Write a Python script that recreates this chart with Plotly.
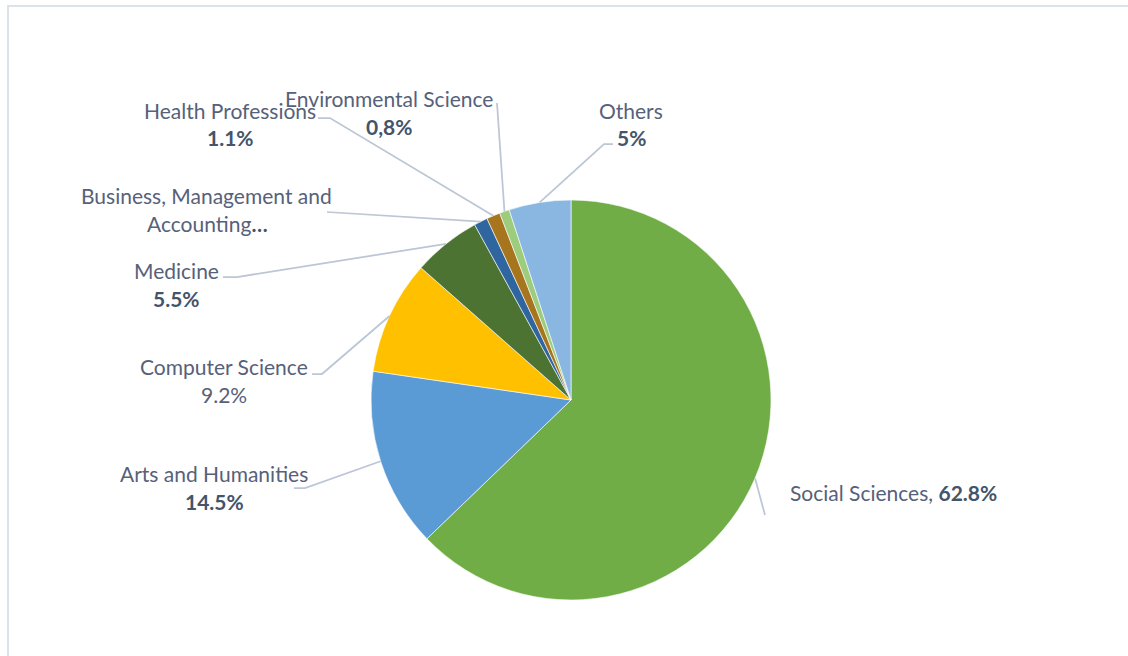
import math
import plotly.graph_objects as go

# ---- data ----
categories = ["Social Sciences", "Arts and Humanities", "Computer Science", "Medicine",
              "Business, Management and Accounting", "Health Professions",
              "Environmental Science", "Others"]
values = [62.8, 14.5, 9.2, 5.5, 1.1, 1.1, 0.8, 5.0]
pct_labels = ["62.8%", "14.5%", "9.2%", "5.5%", "…", "1.1%", "0,8%", "5%"]
pct_bold = [True, True, False, True, True, True, True, True]
colors = ["#70AD47", "#5B9BD5", "#FFC000", "#4C7332", "#2F66A0", "#A8751F", "#9DCC7D", "#8AB7E2"]

W, H = 1128, 656
CX, CY, R = 571, 400, 200  # pie geometry in pixels

def px(x):
    return x / W

def py(y):
    return 1 - y / H

fig = go.Figure(go.Pie(
    labels=categories, values=values, sort=False, direction="clockwise", rotation=0,
    marker=dict(colors=colors, line=dict(color="rgba(255,255,255,0.6)", width=1)),
    textinfo="none", hoverinfo="label+percent", showlegend=False,
    domain=dict(x=[px(CX - R), px(CX + R)], y=[py(CY + R), py(CY - R)]),
))

# label layout (name position, pct position, leader line elbow points) in pixels
label_layout = [
    dict(name=(788, 493), inline=True, path=[(765, 515)]),
    dict(name=(214, 473), pct=(214, 501), path=[(294, 488), (305, 488)]),
    dict(name=(224, 366), pct=(224, 394), path=[(312, 374), (322, 374)]),
    dict(name=(176, 270), pct=(176, 298), path=[(223, 277), (237, 277)]),
    dict(name=(206, 195), pct=(207, 223), path=[(327, 212)], text2="Accounting"),
    dict(name=(230, 110), pct=(230, 138), path=[(318, 118), (330, 118)]),
    dict(name=(389, 99), pct=(389, 126), path=[(497, 103)]),
    dict(name=(631, 110), pct=(631, 138), path=[(613, 144), (604, 144)]),
]

NAME_COLOR = "#56617A"
PCT_COLOR = "#44546A"
FONT = "Lato"
FS = 21
LINE_COLOR = "#BCC6D6"

total = sum(values)
cum = 0.0
shapes = []
annotations = []
for i, (cat, v) in enumerate(zip(categories, values)):
    mid = (cum + v / 2) / total
    cum += v
    ang = 2 * math.pi * mid
    ex = CX + R * math.sin(ang)
    ey = CY - R * math.cos(ang)
    lay = label_layout[i]
    pts = lay["path"] + [(ex, ey)] if i != 0 else [(ex, ey)] + lay["path"]
    d = "M " + " L ".join(f"{px(x)},{py(y)}" for x, y in pts)
    shapes.append(dict(type="path", path=d, xref="paper", yref="paper",
                       line=dict(color=LINE_COLOR, width=1.75), layer="above"))
    pct_txt = f"<b>{pct_labels[i]}</b>" if pct_bold[i] else pct_labels[i]
    if lay.get("inline"):
        annotations.append(dict(x=px(lay["name"][0]), y=py(lay["name"][1]), xref="paper", yref="paper",
                                text=f"{cat}, " + f"<span style='color:{PCT_COLOR}'>{pct_txt}</span>",
                                showarrow=False, xanchor="left", yanchor="middle",
                                font=dict(family=FONT, size=FS, color=NAME_COLOR)))
        continue
    if "text2" in lay:
        name_txt = "Business, Management and"
        annotations.append(dict(x=px(lay["name"][0]), y=py(lay["name"][1]), xref="paper", yref="paper",
                                text=name_txt, showarrow=False, xanchor="center", yanchor="middle",
                                font=dict(family=FONT, size=FS, color=NAME_COLOR)))
        annotations.append(dict(x=px(lay["pct"][0]), y=py(lay["pct"][1]), xref="paper", yref="paper",
                                text=lay["text2"] + f"<span style='color:{PCT_COLOR}'>{pct_txt}</span>",
                                showarrow=False, xanchor="center", yanchor="middle",
                                font=dict(family=FONT, size=FS, color=NAME_COLOR)))
        continue
    annotations.append(dict(x=px(lay["name"][0]), y=py(lay["name"][1]), xref="paper", yref="paper",
                            text=cat, showarrow=False, xanchor="center", yanchor="middle",
                            font=dict(family=FONT, size=FS, color=NAME_COLOR)))
    annotations.append(dict(x=px(lay["pct"][0]), y=py(lay["pct"][1]), xref="paper", yref="paper",
                            text=pct_txt, showarrow=False, xanchor="center", yanchor="middle",
                            font=dict(family=FONT, size=FS, color=PCT_COLOR if pct_bold[i] else NAME_COLOR)))

# outer frame
shapes.append(dict(type="rect", xref="paper", yref="paper",
                   x0=px(8), x1=px(W + 10), y0=py(H + 10), y1=py(6),
                   line=dict(color="#DCE1EA", width=2), fillcolor="rgba(0,0,0,0)", layer="below"))

fig.update_layout(
    width=W, height=H, margin=dict(l=0, r=0, t=0, b=0),
    paper_bgcolor="white", plot_bgcolor="white",
    shapes=shapes, annotations=annotations,
)
fig.write_html("out.html")
